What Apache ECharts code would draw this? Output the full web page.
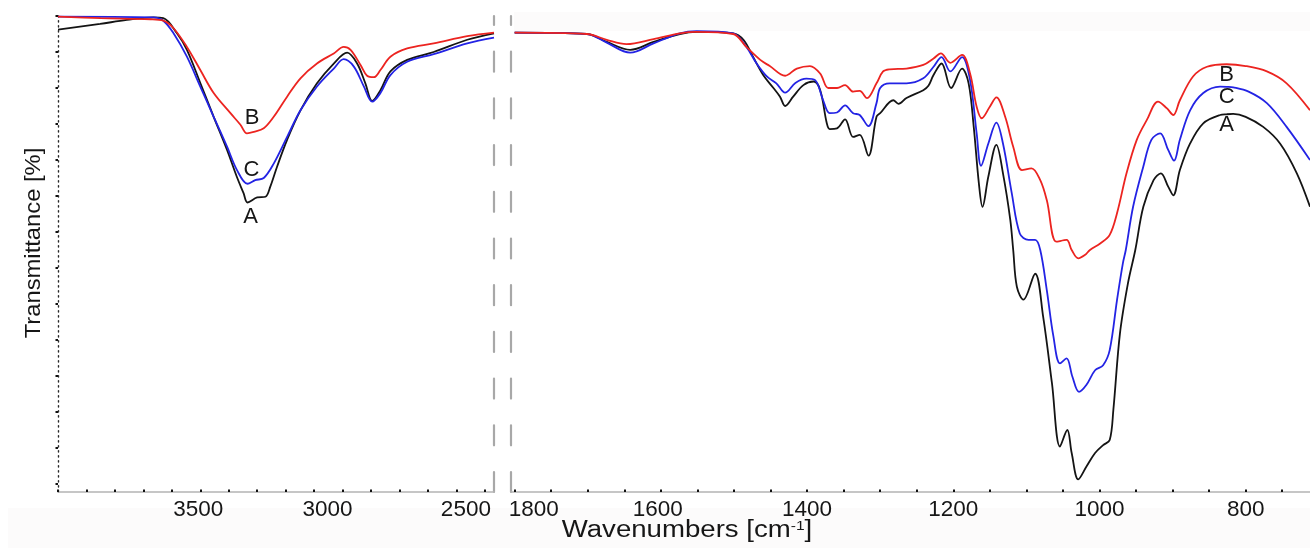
<!DOCTYPE html>
<html>
<head>
<meta charset="utf-8">
<script src="https://cdn.jsdelivr.net/npm/echarts@6/dist/echarts.min.js"></script>
<style>
  html, body { margin: 0; padding: 0; background: #ffffff; }
  #chart { width: 1310px; height: 550px; }
</style>
</head>
<body>
<div id="chart"></div>
<script>
// FTIR spectra of samples A, B, C — [wavenumber cm-1, transmittance %]

// O-H / C-H stretching window
const highA = [[4000,98.1],[3852,98.9],[3758,99.45],[3665,99.8],[3630,99.7],[3582,97.6],[3547,95.3],[3500,90.7],[3453,86.0],[3406,81.4],[3371,77.6],[3348,75.4],[3334,74.1],[3300,74.8],[3271,74.9],[3254,76.3],[3230,79.1],[3195,82.8],[3148,86.9],[3090,90.65],[3031,93.4],[2984,94.9],[2949,93.4],[2920,90.65],[2896,88.2],[2867,89.7],[2832,92.3],[2773,93.9],[2680,95.0],[2562,96.7],[2468,97.6]];
const highB = [[4000,99.9],[3850,99.7],[3676,99.55],[3630,99.35],[3594,98.3],[3547,95.7],[3500,92.5],[3453,89.3],[3394,86.5],[3359,84.9],[3336,83.7],[3312,83.9],[3277,84.4],[3242,86.0],[3195,88.8],[3148,91.35],[3090,93.4],[3031,94.8],[2996,95.7],[2972,95.3],[2937,93.2],[2914,91.7],[2890,91.5],[2867,92.5],[2832,94.35],[2773,95.5],[2680,96.2],[2562,97.2],[2468,97.7]];
const highC = [[4000,99.9],[3665,99.8],[3630,99.35],[3594,97.6],[3547,94.35],[3500,90.2],[3453,86.0],[3406,81.85],[3371,78.6],[3334,76.7],[3307,77.2],[3277,77.5],[3242,79.5],[3195,83.2],[3148,86.9],[3090,90.2],[3031,92.7],[2996,94.0],[2961,93.0],[2925,90.2],[2896,88.1],[2867,89.3],[2832,91.8],[2773,93.65],[2680,94.7],[2562,96.2],[2468,97.0]];

// fingerprint window
const lowA = [[1800,97.7],[1701,97.5],[1674,96.4],[1642,95.3],[1610,96.4],[1574,97.5],[1551,97.8],[1501,97.6],[1487,96.7],[1474,94.35],[1460,91.8],[1446,90.0],[1437,88.8],[1430,87.5],[1419,88.8],[1405,90.4],[1391,90.9],[1382,89.7],[1373,85.1],[1369,84.3],[1359,84.4],[1348,85.65],[1337,83.2],[1328,83.5],[1316,80.6],[1305,86.0],[1300,86.5],[1282,88.3],[1275,87.8],[1264,88.6],[1241,89.7],[1234,90.3],[1227,91.8],[1216,93.4],[1203,90.0],[1188,92.7],[1179,90.65],[1172,84.6],[1165,76.8],[1160,73.5],[1152,77.7],[1141,82.1],[1132,78.15],[1122,71.7],[1118,67.5],[1113,62.4],[1104,60.6],[1088,64.2],[1077,58.2],[1065,49.0],[1054,40.2],[1044,42.5],[1038,39.3],[1029,35.65],[1018,37.4],[1006,39.3],[995,40.4],[986,41.1],[981,45.3],[972,55.9],[961,62.9],[951,67.5],[940,73.5],[926,77.2],[916,78.15],[906,76.3],[899,75.1],[890,78.6],[876,82.3],[858,85.1],[835,86.25],[826,86.35],[817,86.4],[800,86.0],[776,84.6],[753,82.3],[730,78.15],[712,73.5]];
const lowB = [[1800,97.7],[1701,97.5],[1674,96.7],[1647,96.1],[1610,96.8],[1574,97.6],[1551,97.8],[1501,97.5],[1483,95.7],[1464,93.9],[1451,93.05],[1430,91.7],[1414,92.7],[1396,93.05],[1382,92.0],[1371,90.0],[1359,90.0],[1348,90.4],[1337,89.5],[1328,89.6],[1318,88.6],[1305,90.65],[1296,92.3],[1287,92.6],[1264,92.7],[1241,93.2],[1227,94.1],[1217,94.8],[1204,93.5],[1188,94.6],[1177,92.0],[1168,87.4],[1161,85.8],[1150,87.4],[1141,88.7],[1129,86.0],[1118,81.85],[1106,78.6],[1093,78.85],[1081,77.2],[1072,74.4],[1059,68.65],[1045,68.9],[1038,67.5],[1029,66.35],[1020,66.8],[1013,67.5],[999,68.4],[986,69.6],[976,72.6],[963,78.15],[949,82.8],[935,85.6],[920,88.1],[908,87.2],[899,86.25],[890,88.3],[872,91.6],[853,92.95],[826,93.3],[800,93.05],[771,92.3],[744,90.65],[712,86.9]];
const lowC = [[1800,97.7],[1701,97.5],[1674,96.3],[1642,94.9],[1610,96.2],[1574,97.6],[1551,97.9],[1501,97.6],[1483,95.7],[1469,93.4],[1455,91.6],[1442,90.65],[1430,89.35],[1416,90.7],[1401,91.3],[1389,91.1],[1378,88.3],[1369,86.5],[1359,86.6],[1348,87.6],[1337,86.5],[1328,86.25],[1316,84.7],[1305,87.9],[1300,90.0],[1287,90.65],[1264,90.65],[1241,91.35],[1227,92.95],[1216,94.3],[1204,92.3],[1188,94.3],[1177,91.1],[1168,83.7],[1162,79.2],[1152,82.3],[1141,85.2],[1132,82.3],[1120,75.4],[1109,69.8],[1097,68.9],[1088,68.9],[1081,67.5],[1072,61.9],[1063,55.5],[1054,51.75],[1045,52.45],[1037,49.9],[1028,47.8],[1018,48.75],[1006,50.8],[995,51.5],[986,53.6],[976,60.55],[968,65.65],[964,67.5],[954,73.5],[940,79.1],[929,82.8],[917,83.7],[906,81.4],[898,79.9],[890,82.8],[876,86.9],[858,89.3],[835,90.2],[826,90.17],[817,90.1],[796,89.5],[771,87.9],[744,84.6],[712,80.0]];

// axis ticks and labels
const highTicks = [2500,2600,2700,2800,2900,3000,3100,3200,3300,3400,3500,3600,3700,3800,3900,4000];
const highLabels = [2500,3000,3500];
const lowTicks = [750,800,850,900,950,1000,1050,1100,1150,1200,1250,1300,1350,1400,1450,1500,1550,1600,1650,1700,1750,1800];
const lowLabels = [800,1000,1200,1400,1600,1800];
const yTicks = [35,40,45,50,55,60,65,70,75,80,85,90,95,100];

// wavenumber at which each sample letter is attached to its curve
const tagAnchorsHigh = { A: 3334, B: 3336, C: 3334 };
const tagAnchorsLow = { A: 826, B: 826, C: 826 };

// ---- styling ----
const FONT = '"Liberation Sans", Arial, sans-serif';
const INK = '#161616';
const COLORS = { A: '#141414', B: '#ec2420', C: '#2323e4' };
const TAG_OFFSETS_HIGH = { A: [3, 14], B: [5, -15], C: [4, -14] };
const TAG_OFFSETS_LOW = { A: [0, 11], B: [0, 11], C: [0, 10] };
// horizontal nudges of individual tick labels (px)
const LABEL_SHIFT = { 3500: -2, 3000: -15, 2500: -19, 1800: 19, 1600: -3 };

function labelRich(values) {
  const rich = {};
  values.forEach(v => {
    const s = LABEL_SHIFT[v] || 0;
    rich['v' + v] = {
      fontSize: 22.5, fontFamily: FONT, color: INK,
      padding: s < 0 ? [0, -2 * s, 0, 0] : [0, 0, 0, 2 * s]
    };
  });
  return rich;
}

const Y_MIN = 33.89, Y_MAX = 100;

function xAxis(gridIndex, min, max, ticks, labels) {
  return {
    type: 'value', gridIndex, min, max, inverse: true,
    axisLine: { show: true, lineStyle: { color: '#b4b4b4', width: 1.5 } },
    axisTick: { show: true, inside: true, length: 2.5, customValues: ticks,
                lineStyle: { color: '#111', width: 2 } },
    axisLabel: { show: true, margin: 6, customValues: labels,
                 formatter: v => '{v' + v + '|' + v + '}', rich: labelRich(labels) },
    splitLine: { show: false }
  };
}

function dashedBreak(gridIndex, position) {
  return {
    type: 'value', gridIndex, position, min: Y_MIN, max: Y_MAX,
    axisLine: { show: true, onZero: false, lineStyle: { color: '#a8a8a8', width: 2.2, type: [20, 26.7] } },
    axisTick: { show: false }, axisLabel: { show: false }, splitLine: { show: false }
  };
}

function curve(name, data, gridIndex, yAxisIndex, anchor, offset) {
  const pt = data.find(d => d[0] === anchor);
  return {
    type: 'line', name, data, xAxisIndex: gridIndex, yAxisIndex,
    smooth: 0.35, symbol: 'none', clip: true,
    lineStyle: { color: COLORS[name], width: 1.8 },
    z: name === 'A' ? 3 : (name === 'C' ? 4 : 5),
    markPoint: {
      symbol: 'circle', symbolSize: 1, silent: true,
      itemStyle: { color: 'rgba(0,0,0,0)' },
      data: [{
        coord: pt,
        label: { show: true, formatter: name, position: 'inside', offset,
                 fontSize: 22, fontFamily: FONT, color: INK }
      }]
    }
  };
}

const chart = echarts.init(document.getElementById('chart'), null, { renderer: 'canvas' });

chart.setOption({
  animation: false,
  backgroundColor: '#ffffff',
  grid: [
    { left: 58, right: 816, top: 16, bottom: 58, outerBoundsMode: 'none' },
    { left: 511, right: 0, top: 16, bottom: 58, outerBoundsMode: 'none' }
  ],
  xAxis: [
    xAxis(0, 2468, 4000, highTicks, highLabels),
    xAxis(1, 712, 1805, lowTicks, lowLabels)
  ],
  yAxis: [
    {
      type: 'value', gridIndex: 0, position: 'left', min: Y_MIN, max: Y_MAX,
      axisLine: { show: true, onZero: false, lineStyle: { color: '#2a2a2a', width: 1.4, type: [1.4, 3.6] } },
      axisTick: { show: true, length: 2.5, customValues: yTicks, lineStyle: { color: '#111', width: 2 } },
      axisLabel: { show: false },
      splitLine: { show: false }
    },
    dashedBreak(0, 'right'),
    dashedBreak(1, 'left')
  ],
  series: [
    curve('A', highA, 0, 0, tagAnchorsHigh.A, TAG_OFFSETS_HIGH.A),
    curve('C', highC, 0, 0, tagAnchorsHigh.C, TAG_OFFSETS_HIGH.C),
    curve('B', highB, 0, 0, tagAnchorsHigh.B, TAG_OFFSETS_HIGH.B),
    curve('A', lowA, 1, 2, tagAnchorsLow.A, TAG_OFFSETS_LOW.A),
    curve('C', lowC, 1, 2, tagAnchorsLow.C, TAG_OFFSETS_LOW.C),
    curve('B', lowB, 1, 2, tagAnchorsLow.B, TAG_OFFSETS_LOW.B)
  ],
  graphic: [
    // faint page bands behind the plot
    { type: 'rect', z: -10, silent: true, shape: { x: 8, y: 508, width: 1302, height: 40 },
      style: { fill: '#fcfbfb' } },
    { type: 'rect', z: -10, silent: true, shape: { x: 514, y: 12, width: 796, height: 19 },
      style: { fill: '#fcfbfb' } },
    {
      type: 'text', x: 34, y: 243, rotation: Math.PI / 2, scaleX: 1.08,
      style: { text: 'Transmittance [%]', fontSize: 22, fontFamily: FONT, fill: INK,
               align: 'center', verticalAlign: 'middle' }
    },
    {
      type: 'text', x: 687, y: 531, scaleX: 1.2,
      style: {
        text: '{a|Wavenumbers [cm}{s|-1}{a|]}',
        align: 'center', verticalAlign: 'middle',
        rich: {
          a: { fontSize: 23, fontFamily: FONT, fill: INK, color: INK },
          s: { fontSize: 13, fontFamily: FONT, fill: INK, color: INK, verticalAlign: 'top' }
        }
      }
    }
  ]
});
</script>
</body>
</html>
